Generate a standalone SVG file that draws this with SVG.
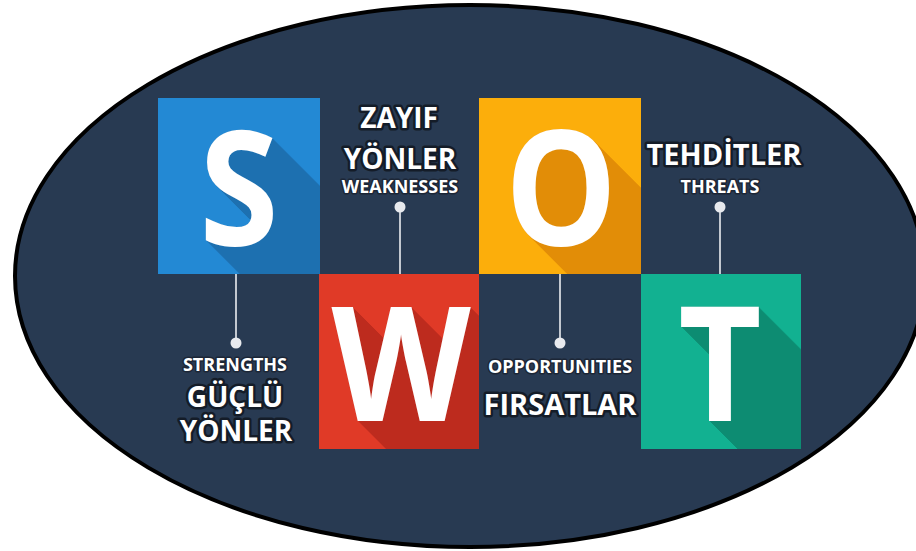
<svg xmlns="http://www.w3.org/2000/svg" width="916" height="551" viewBox="0 0 916 551">
<style>
.letter{font-family:"Open Sans","Liberation Sans",sans-serif;font-weight:700;font-size:160px;fill:#ffffff;text-anchor:middle}
.big{font-family:"Open Sans","Liberation Sans",sans-serif;font-weight:700;font-size:28px;fill:#ffffff;text-anchor:middle;stroke:#141c28;stroke-width:5px;stroke-linejoin:round;paint-order:stroke}
.small{font-family:"Open Sans","Liberation Sans",sans-serif;font-weight:700;font-size:18px;fill:#ffffff;text-anchor:middle;stroke:#1c2636;stroke-width:3px;stroke-linejoin:round;paint-order:stroke}
.conn{stroke:#c3c8d0;stroke-width:2;fill:none}
.dot{fill:#e8eaee}
</style>
<defs>
<filter id="shS" filterUnits="userSpaceOnUse" x="158" y="98" width="162" height="176" color-interpolation-filters="sRGB">
<feOffset in="SourceAlpha" dx="1" dy="1" result="o1"/><feMerge result="m1"><feMergeNode in="SourceAlpha"/><feMergeNode in="o1"/></feMerge>
<feOffset in="m1" dx="2" dy="2" result="o2"/><feMerge result="m2"><feMergeNode in="m1"/><feMergeNode in="o2"/></feMerge>
<feOffset in="m2" dx="4" dy="4" result="o3"/><feMerge result="m3"><feMergeNode in="m2"/><feMergeNode in="o3"/></feMerge>
<feOffset in="m3" dx="8" dy="8" result="o4"/><feMerge result="m4"><feMergeNode in="m3"/><feMergeNode in="o4"/></feMerge>
<feOffset in="m4" dx="16" dy="16" result="o5"/><feMerge result="m5"><feMergeNode in="m4"/><feMergeNode in="o5"/></feMerge>
<feOffset in="m5" dx="32" dy="32" result="o6"/><feMerge result="m6"><feMergeNode in="m5"/><feMergeNode in="o6"/></feMerge>
<feOffset in="m6" dx="64" dy="64" result="o7"/><feMerge result="m7"><feMergeNode in="m6"/><feMergeNode in="o7"/></feMerge>
<feFlood flood-color="#1d70b0" result="c"/><feComposite in="c" in2="m7" operator="in" result="sh"/>
<feMerge><feMergeNode in="sh"/><feMergeNode in="SourceGraphic"/></feMerge>
</filter>
<filter id="shO" filterUnits="userSpaceOnUse" x="479" y="98" width="162" height="176" color-interpolation-filters="sRGB">
<feOffset in="SourceAlpha" dx="1" dy="1" result="o1"/><feMerge result="m1"><feMergeNode in="SourceAlpha"/><feMergeNode in="o1"/></feMerge>
<feOffset in="m1" dx="2" dy="2" result="o2"/><feMerge result="m2"><feMergeNode in="m1"/><feMergeNode in="o2"/></feMerge>
<feOffset in="m2" dx="4" dy="4" result="o3"/><feMerge result="m3"><feMergeNode in="m2"/><feMergeNode in="o3"/></feMerge>
<feOffset in="m3" dx="8" dy="8" result="o4"/><feMerge result="m4"><feMergeNode in="m3"/><feMergeNode in="o4"/></feMerge>
<feOffset in="m4" dx="16" dy="16" result="o5"/><feMerge result="m5"><feMergeNode in="m4"/><feMergeNode in="o5"/></feMerge>
<feOffset in="m5" dx="32" dy="32" result="o6"/><feMerge result="m6"><feMergeNode in="m5"/><feMergeNode in="o6"/></feMerge>
<feOffset in="m6" dx="64" dy="64" result="o7"/><feMerge result="m7"><feMergeNode in="m6"/><feMergeNode in="o7"/></feMerge>
<feFlood flood-color="#e28d07" result="c"/><feComposite in="c" in2="m7" operator="in" result="sh"/>
<feMerge><feMergeNode in="sh"/><feMergeNode in="SourceGraphic"/></feMerge>
</filter>
<filter id="shW" filterUnits="userSpaceOnUse" x="319" y="274" width="160" height="175" color-interpolation-filters="sRGB">
<feOffset in="SourceAlpha" dx="1" dy="1" result="o1"/><feMerge result="m1"><feMergeNode in="SourceAlpha"/><feMergeNode in="o1"/></feMerge>
<feOffset in="m1" dx="2" dy="2" result="o2"/><feMerge result="m2"><feMergeNode in="m1"/><feMergeNode in="o2"/></feMerge>
<feOffset in="m2" dx="4" dy="4" result="o3"/><feMerge result="m3"><feMergeNode in="m2"/><feMergeNode in="o3"/></feMerge>
<feOffset in="m3" dx="8" dy="8" result="o4"/><feMerge result="m4"><feMergeNode in="m3"/><feMergeNode in="o4"/></feMerge>
<feOffset in="m4" dx="16" dy="16" result="o5"/><feMerge result="m5"><feMergeNode in="m4"/><feMergeNode in="o5"/></feMerge>
<feOffset in="m5" dx="32" dy="32" result="o6"/><feMerge result="m6"><feMergeNode in="m5"/><feMergeNode in="o6"/></feMerge>
<feOffset in="m6" dx="64" dy="64" result="o7"/><feMerge result="m7"><feMergeNode in="m6"/><feMergeNode in="o7"/></feMerge>
<feFlood flood-color="#bd2b1e" result="c"/><feComposite in="c" in2="m7" operator="in" result="sh"/>
<feMerge><feMergeNode in="sh"/><feMergeNode in="SourceGraphic"/></feMerge>
</filter>
<filter id="shT" filterUnits="userSpaceOnUse" x="641" y="274" width="160" height="175" color-interpolation-filters="sRGB">
<feOffset in="SourceAlpha" dx="1" dy="1" result="o1"/><feMerge result="m1"><feMergeNode in="SourceAlpha"/><feMergeNode in="o1"/></feMerge>
<feOffset in="m1" dx="2" dy="2" result="o2"/><feMerge result="m2"><feMergeNode in="m1"/><feMergeNode in="o2"/></feMerge>
<feOffset in="m2" dx="4" dy="4" result="o3"/><feMerge result="m3"><feMergeNode in="m2"/><feMergeNode in="o3"/></feMerge>
<feOffset in="m3" dx="8" dy="8" result="o4"/><feMerge result="m4"><feMergeNode in="m3"/><feMergeNode in="o4"/></feMerge>
<feOffset in="m4" dx="16" dy="16" result="o5"/><feMerge result="m5"><feMergeNode in="m4"/><feMergeNode in="o5"/></feMerge>
<feOffset in="m5" dx="32" dy="32" result="o6"/><feMerge result="m6"><feMergeNode in="m5"/><feMergeNode in="o6"/></feMerge>
<feOffset in="m6" dx="64" dy="64" result="o7"/><feMerge result="m7"><feMergeNode in="m6"/><feMergeNode in="o7"/></feMerge>
<feFlood flood-color="#0d8c72" result="c"/><feComposite in="c" in2="m7" operator="in" result="sh"/>
<feMerge><feMergeNode in="sh"/><feMergeNode in="SourceGraphic"/></feMerge>
</filter>
</defs>
<rect width="916" height="551" fill="#ffffff"/>
<ellipse id="background" cx="470" cy="276" rx="455" ry="271" fill="#283a52" stroke="#000000" stroke-width="4"/>
<g id="connectors">
<line class="conn" x1="400" y1="207" x2="400" y2="274"/><circle class="dot" cx="400" cy="207" r="5.5"/>
<line class="conn" x1="720" y1="207" x2="720" y2="274"/><circle class="dot" cx="720" cy="207" r="5.5"/>
<line class="conn" x1="236" y1="274" x2="236" y2="343"/><circle class="dot" cx="236" cy="343" r="5.5"/>
<line class="conn" x1="560" y1="274" x2="560" y2="343"/><circle class="dot" cx="560" cy="343" r="5.5"/>
</g>
<g id="node-S">
<rect x="158" y="98" width="162" height="176" fill="#2389d4"/>
<g filter="url(#shS)"><text class="letter" transform="translate(239,245) scale(0.9,1)">S</text></g>
</g>
<g id="node-O">
<rect x="479" y="98" width="162" height="176" fill="#fcae0b"/>
<g filter="url(#shO)"><text class="letter" transform="translate(561,245) scale(0.88,1)">O</text></g>
</g>
<g id="node-W">
<rect x="319" y="274" width="160" height="175" fill="#e03a27"/>
<g filter="url(#shW)"><text class="letter" transform="translate(401,421) scale(0.9,1)">W</text></g>
</g>
<g id="node-T">
<rect x="641" y="274" width="160" height="175" fill="#12b191"/>
<g filter="url(#shT)"><text class="letter" transform="translate(720,421) scale(0.9,1)">T</text></g>
</g>
<g id="label-W">
<text class="big" x="399" y="128">ZAYIF</text>
<text class="big" x="400" y="169">YÖNLER</text>
<text class="small" x="400" y="193">WEAKNESSES</text>
</g>
<g id="label-T">
<text class="big" x="724" y="165" style="font-size:29px">TEHDİTLER</text>
<text class="small" x="720" y="193">THREATS</text>
</g>
<g id="label-S">
<text class="small" x="235" y="371">STRENGTHS</text>
<text class="big" x="235" y="407">GÜÇLÜ</text>
<text class="big" x="236" y="441">YÖNLER</text>
</g>
<g id="label-O">
<text class="small" x="560" y="373">OPPORTUNITIES</text>
<text class="big" x="560" y="415" style="font-size:29px">FIRSATLAR</text>
</g>
</svg>
